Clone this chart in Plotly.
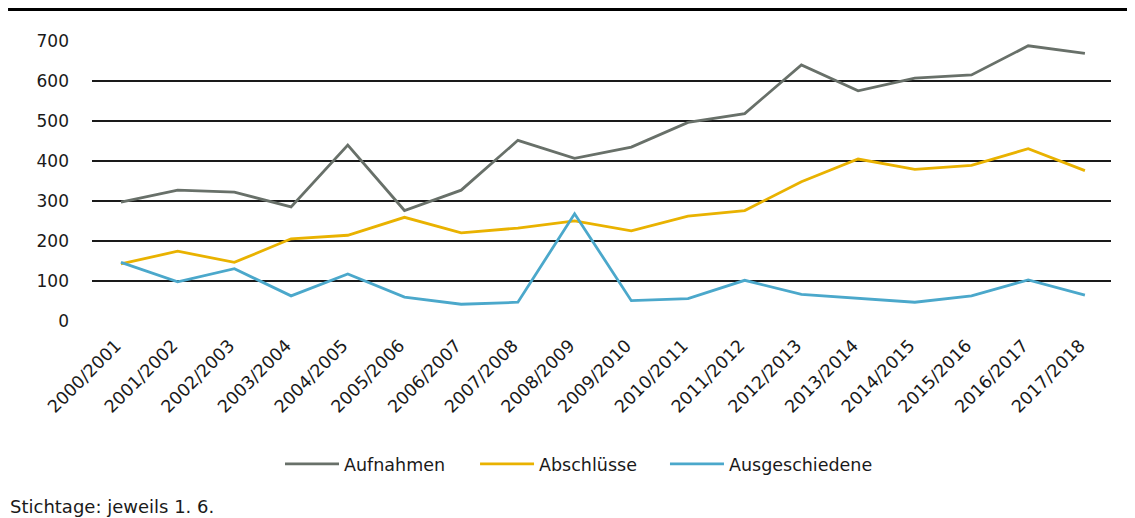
import plotly.graph_objects as go

categories = ["2000/2001", "2001/2002", "2002/2003", "2003/2004", "2004/2005",
              "2005/2006", "2006/2007", "2007/2008", "2008/2009", "2009/2010",
              "2010/2011", "2011/2012", "2012/2013", "2013/2014", "2014/2015",
              "2015/2016", "2016/2017", "2017/2018"]

aufnahmen = [297, 327, 322, 285, 440, 276, 327, 452, 407, 435,
             497, 519, 641, 576, 608, 616, 689, 670]
abschluesse = [142, 174, 146, 205, 214, 259, 220, 232, 250, 225,
               262, 276, 348, 405, 379, 389, 431, 376]
ausgeschiedene = [146, 97, 130, 62, 117, 59, 41, 46, 268, 50,
                  55, 101, 66, 56, 46, 62, 102, 64]

y_ticks = [0, 100, 200, 300, 400, 500, 600, 700]

series = [
    ("Aufnahmen", aufnahmen, "#687069", "legend", 0.1845),
    ("Abschlüsse", abschluesse, "#E9B200", "legend2", 0.3759),
    ("Ausgeschiedene", ausgeschiedene, "#4BA8CB", "legend3", 0.5623),
]

FONT = "DejaVu Sans"
TXT = "#1a1a1a"

fig = go.Figure()
legends = {}
for name, vals, color, leg, lx in series:
    fig.add_trace(go.Scatter(
        x=list(range(len(categories))), y=vals, name=name, mode="lines",
        line=dict(color=color, width=2.8), legend=leg,
    ))
    legends[leg] = dict(orientation="h", x=lx, xanchor="left", y=-0.511,
                        yanchor="middle", itemwidth=54,
                        bgcolor="rgba(0,0,0,0)",
                        font=dict(family=FONT, size=17.5, color=TXT))

fig.update_layout(
    width=1127, height=510,
    margin=dict(l=84, r=24, t=33, b=197),
    paper_bgcolor="white", plot_bgcolor="white",
    font=dict(family=FONT, size=17, color=TXT),
    showlegend=True,
    **legends,
    xaxis=dict(
        tickmode="array", tickvals=list(range(len(categories))), ticktext=categories,
        range=[-0.511, 17.46], tickangle=-45, showgrid=False, zeroline=False,
        showline=False, ticks="", ticklabelstandoff=10, ticklabelshift=-5,
        tickfont=dict(family=FONT, size=17.5, color=TXT),
    ),
    yaxis=dict(
        range=[-1, 701], tickvals=y_ticks, showgrid=True, gridcolor="#1a1a1a",
        gridwidth=1.5, zeroline=False, showline=False, ticks="",
        ticklabelstandoff=22,
        tickfont=dict(family=FONT, size=17, color=TXT),
    ),
    shapes=[dict(type="line", xref="paper", yref="paper",
                 x0=-0.0824, x1=1.03, y0=1.113, y1=1.113,
                 line=dict(color="black", width=3.5))],
    annotations=[dict(text="Stichtage: jeweils 1. 6.", xref="paper", yref="paper",
                      x=-0.0826, y=-0.664, xanchor="left", yanchor="middle",
                      showarrow=False, font=dict(family=FONT, size=18, color=TXT))],
)

fig.write_html("out.html")
